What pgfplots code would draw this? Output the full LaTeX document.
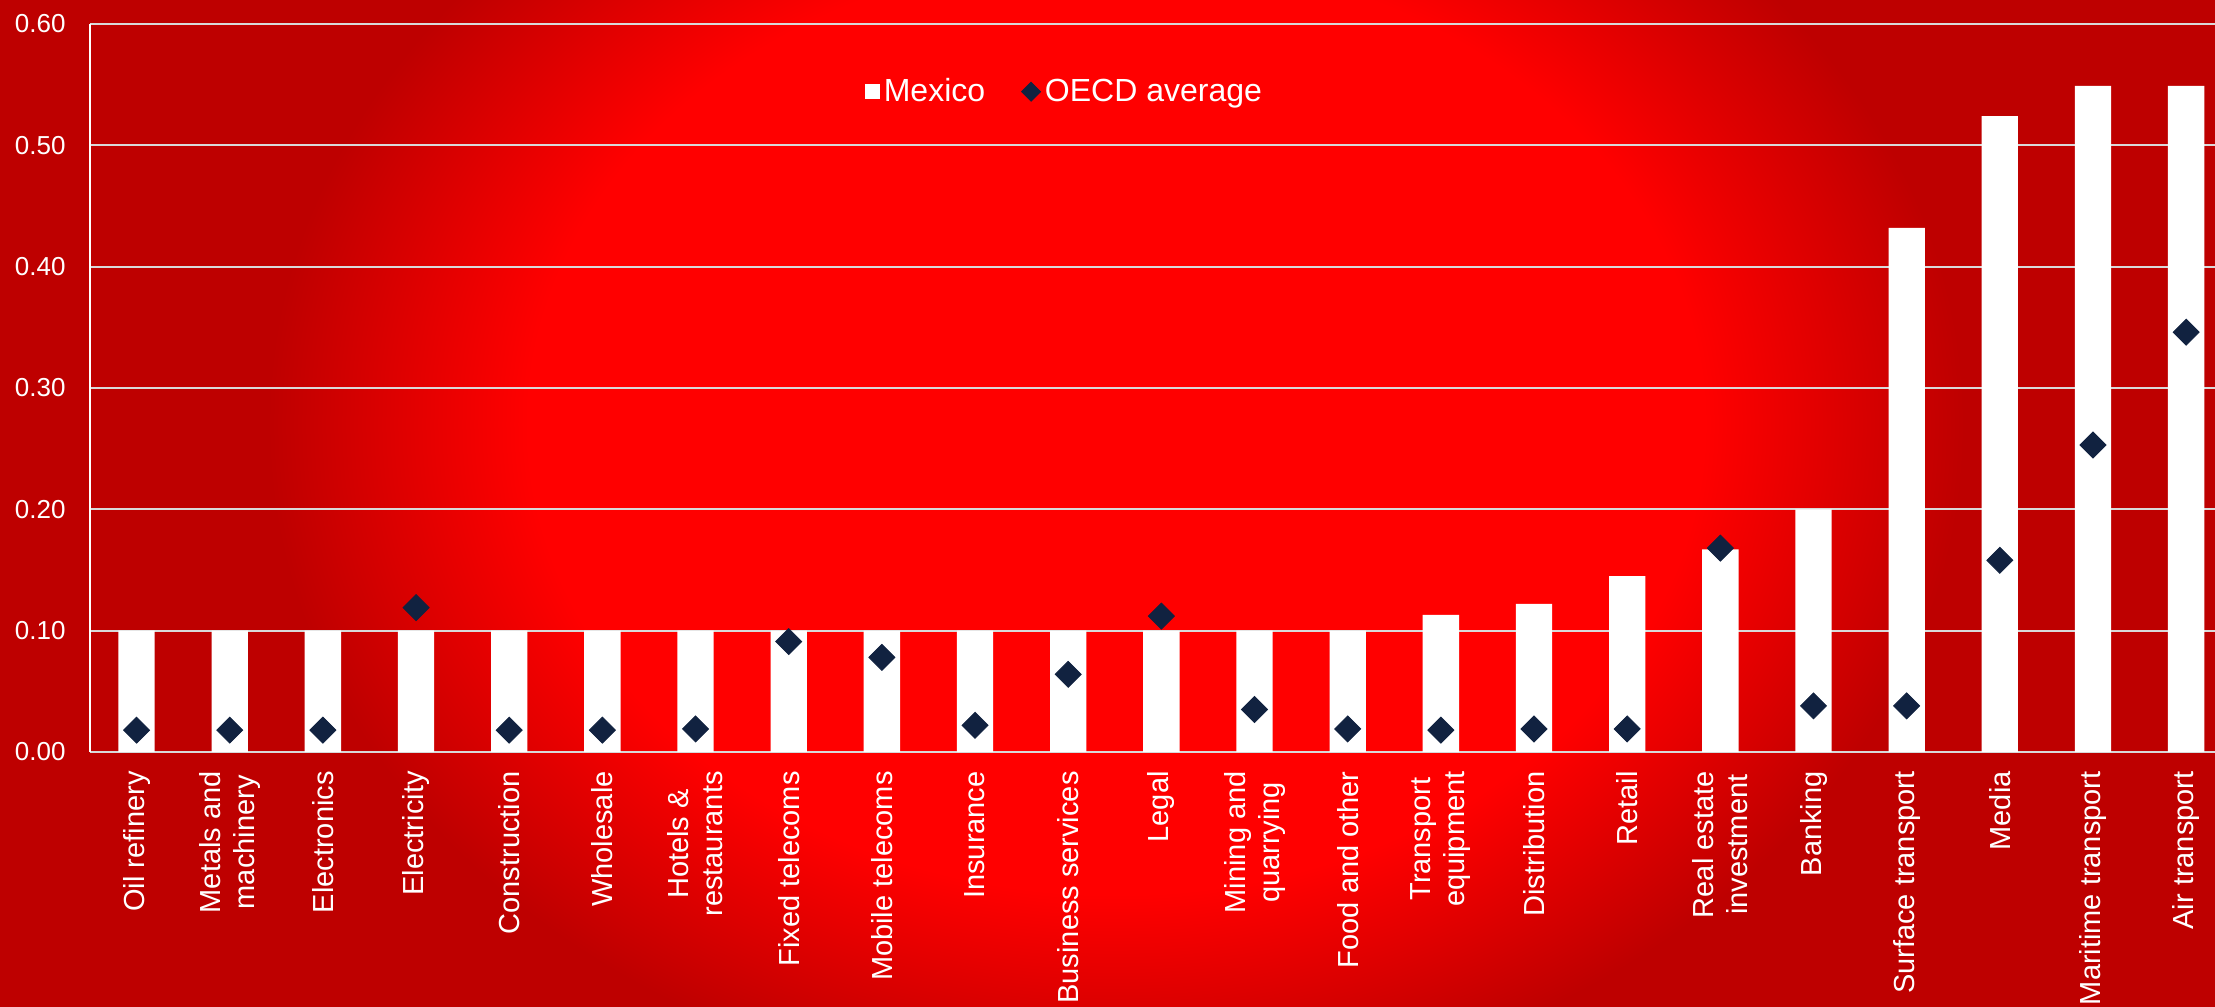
\documentclass[border=0pt]{standalone}
\usepackage{pgfplots}
\pgfplotsset{compat=1.18}
\usepackage{fontspec}
\setmainfont{Liberation Sans}
\definecolor{bright}{RGB}{255,0,0}
\definecolor{darkbg}{RGB}{190,0,0}
\definecolor{navy}{RGB}{17,34,64}
\definecolor{gridgray}{RGB}{217,217,217}
\pgfdeclareradialshading{bgshade}{\pgfpoint{0bp}{0bp}}{color(0bp)=(bright); color(10.4bp)=(bright); color(15bp)=(darkbg); color(50bp)=(darkbg)}
\begin{document}
\begin{tikzpicture}
\useasboundingbox (0,0) rectangle (1107.5pt,503pt);
\begin{scope}
\clip (0,0) rectangle (1107.5pt,503pt);
\shade[shading=bgshade] (-148.7pt,-274pt) rectangle (1264.7pt,856pt);
\end{scope}
\begin{axis}[
  at={(45pt,127pt)}, anchor=south west,
  scale only axis, width=1062.5pt, height=364pt,
  xmin=-0.5, xmax=22.31, ymin=0, ymax=0.6,
  axis lines=left,
  x axis line style={gridgray, line width=1pt, -},
  y axis line style={white, line width=1pt, -},
  ymajorgrids, grid style={gridgray, line width=0.9pt},
  major tick length=0pt,
  ytick={0,0.1,0.2,0.3,0.4,0.5,0.6},
  yticklabels={0.00,0.10,0.20,0.30,0.40,0.50,0.60},
  yticklabel style={font=\fontsize{13}{15}\selectfont, text=white, inner sep=0pt, xshift=-12pt},
  xtick={0,...,22},
  xticklabels={Oil refinery, Metals and\\machinery, Electronics, Electricity, Construction, Wholesale, Hotels \&\\restaurants, Fixed telecoms, Mobile telecoms, Insurance, Business services, Legal, Mining and\\quarrying, Food and other, Transport\\equipment, Distribution, Retail, Real estate\\investment, Banking, Surface transport, Media, Maritime transport, Air transport},
  xticklabel style={yshift=-9.5pt, rotate=90, anchor=east, align=center, inner sep=0pt, font=\fontsize{14.5}{17}\selectfont, text=white},
  legend columns=2,
  legend style={draw=none, fill=none, at={(0.459,0.907)}, anchor=center,
    font=\fontsize{16}{19}\selectfont, text=white,
    /tikz/every even column/.append style={column sep=16pt}},
]
\addplot[ybar, bar width=0.39, fill=white, draw=none,
  legend image code/.code={\fill[white] (0pt,-3.75pt) rectangle (7.5pt,3.75pt);}]
coordinates {
(0,0.10) (1,0.10) (2,0.10) (3,0.10) (4,0.10) (5,0.10) (6,0.10) (7,0.10)
(8,0.10) (9,0.10) (10,0.10) (11,0.10) (12,0.10) (13,0.10) (14,0.113)
(15,0.122) (16,0.145) (17,0.167) (18,0.20) (19,0.432) (20,0.524)
(21,0.549) (22,0.549)};
\addlegendentry{Mexico}
\addplot[only marks, mark=square*, mark size=4.6pt, mark options={rotate=45, fill=navy, draw=navy},
  legend image code/.code={\fill[navy] (0pt,0pt) -- (4.75pt,4.75pt) -- (9.5pt,0pt) -- (4.75pt,-4.75pt) -- cycle;}]
coordinates {
(0,0.018) (1,0.018) (2,0.018) (3,0.119) (4,0.018) (5,0.018) (6,0.019)
(7,0.091) (8,0.078) (9,0.022) (10,0.064) (11,0.112) (12,0.035) (13,0.019)
(14,0.018) (15,0.019) (16,0.019) (17,0.168) (18,0.038) (19,0.038)
(20,0.158) (21,0.253) (22,0.346)};
\addlegendentry{OECD average}
\end{axis}
\end{tikzpicture}
\end{document}
